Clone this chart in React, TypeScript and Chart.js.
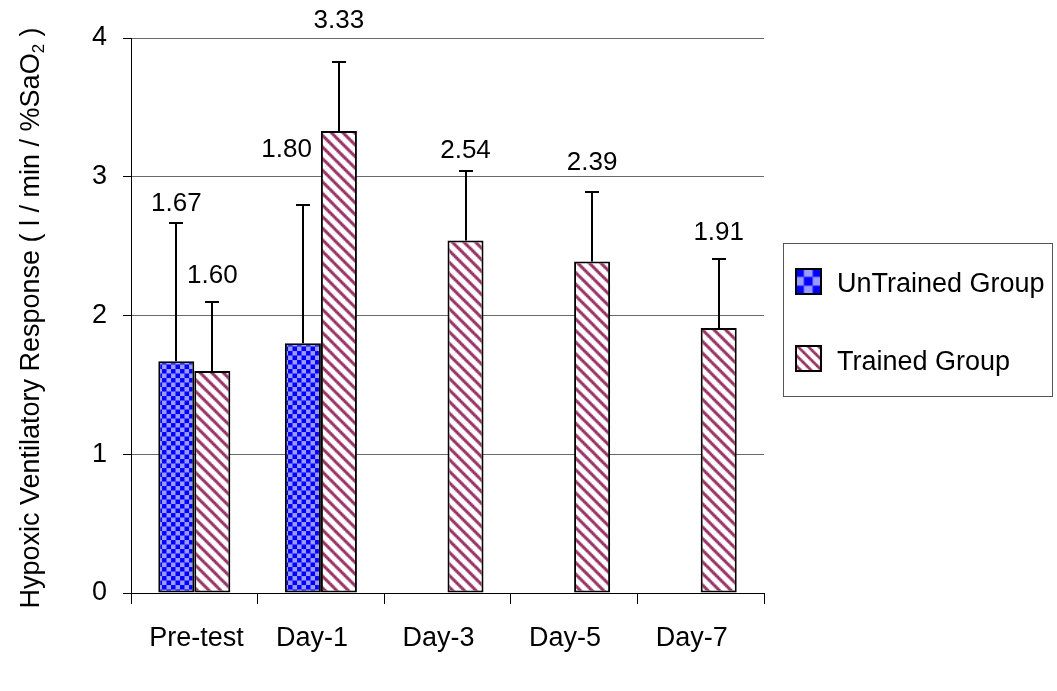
import React, { useEffect, useRef } from "react";
import { Chart, registerables } from "chart.js";

Chart.register(...registerables);

// Hypoxic ventilatory response, mean with upper SD
const categories = ["Pre-test", "Day-1", "Day-3", "Day-5", "Day-7"];
const seriesNames = ["UnTrained Group", "Trained Group"];
const untrainedValues = [1.67, 1.8, null, null, null];
const untrainedErrors = [1.0, 1.0, null, null, null];
const trainedValues = [1.6, 3.33, 2.54, 2.39, 1.91];
const trainedErrors = [0.5, 0.5, 0.5, 0.5, 0.5];
const yTickValues = [0, 1, 2, 3, 4];
const yTitle = "Hypoxic Ventilatory Response ( l / min / %SaO";
const yTitleSub = "2";
const yTitleTail = " )";

const FONT = '"Liberation Sans", Arial, Helvetica, sans-serif';
const W = 1057;
const H = 691;

function makeChecker(ctx: CanvasRenderingContext2D, scale: number, ox = 0, oy = 0) {
  const c = document.createElement("canvas");
  c.width = 8;
  c.height = 8;
  const g = c.getContext("2d")!;
  g.fillStyle = "#9a9aff";
  g.fillRect(0, 0, 8, 8);
  g.fillStyle = "#0000ff";
  g.fillRect(0, 0, 4, 4);
  g.fillRect(4, 4, 4, 4);
  const p = ctx.createPattern(c, "repeat")!;
  p.setTransform(new DOMMatrix().translate(ox, oy).scale(scale));
  return p;
}

function makeStripes(ctx: CanvasRenderingContext2D, scale: number, ox = 0, oy = 0) {
  const S = 8;
  const c = document.createElement("canvas");
  c.width = S;
  c.height = S;
  const g = c.getContext("2d")!;
  g.fillStyle = "#ffffff";
  g.fillRect(0, 0, S, S);
  g.fillStyle = "#993366";
  for (let y = 0; y < S; y++) {
    for (let x = 0; x < S; x++) {
      if ((((x - y) % S) + S) % S < 3) g.fillRect(x, y, 1, 1);
    }
  }
  const p = ctx.createPattern(c, "repeat")!;
  p.setTransform(new DOMMatrix().translate(ox, oy).scale(scale));
  return p;
}

export default function App() {
  const canvasRef = useRef<HTMLCanvasElement | null>(null);

  useEffect(() => {
    const canvas = canvasRef.current;
    if (!canvas) return;
    const ctx = canvas.getContext("2d")!;
    const checker = makeChecker(ctx, 1.125);
    const stripes = makeStripes(ctx, 1.45);
    const errors = [untrainedErrors, trainedErrors];

    // upward-only error bars with caps
    const errorBars = {
      id: "errorBars",
      afterDatasetsDraw(chart: any) {
        const c = chart.ctx;
        const y = chart.scales.y;
        c.save();
        c.strokeStyle = "#000";
        c.lineWidth = 2;
        chart.data.datasets.forEach((ds: any, di: number) => {
          const meta = chart.getDatasetMeta(di);
          meta.data.forEach((bar: any, i: number) => {
            const v = ds.data[i];
            const e = errors[di][i];
            if (v == null || e == null) return;
            const top = Math.round(y.getPixelForValue(v + e));
            const x = Math.round(bar.x);
            c.beginPath();
            c.moveTo(x, bar.y);
            c.lineTo(x, top);
            c.moveTo(x - 7, top);
            c.lineTo(x + 7, top);
            c.stroke();
          });
        });
        c.restore();
      },
    };

    // value labels above each error bar
    const valueLabels = {
      id: "valueLabels",
      afterDatasetsDraw(chart: any, _args: any, opts: any) {
        const c = chart.ctx;
        const y = chart.scales.y;
        c.save();
        c.fillStyle = "#000";
        c.font = `26px ${FONT}`;
        c.textBaseline = "middle";
        chart.data.datasets.forEach((ds: any, di: number) => {
          const meta = chart.getDatasetMeta(di);
          meta.data.forEach((bar: any, i: number) => {
            const v = ds.data[i];
            if (v == null) return;
            const lift = opts.lift[di][i];
            const text = v.toFixed(2);
            if (lift === "beside") {
              // tucked against the left side of the neighbouring bar's top
              const other = chart.getDatasetMeta(1 - di).data[i];
              c.textAlign = "right";
              c.fillText(text, other.x - other.width / 2 - 9, other.y + 19);
              return;
            }
            const cap = y.getPixelForValue(v + errors[di][i]);
            c.textAlign = "center";
            c.fillText(text, bar.x, cap - lift);
          });
        });
        c.restore();
      },
    };

    // rotated y title with subscript
    const yAxisTitle = {
      id: "yAxisTitle",
      afterDraw(chart: any) {
        const c = chart.ctx;
        c.save();
        c.translate(39, 318);
        c.rotate(-Math.PI / 2);
        c.fillStyle = "#000";
        c.textBaseline = "alphabetic";
        c.textAlign = "left";
        c.font = `27px ${FONT}`;
        const w1 = c.measureText(yTitle).width;
        const w3 = c.measureText(yTitleTail).width;
        c.font = `17px ${FONT}`;
        const w2 = c.measureText(yTitleSub).width;
        let x = -(w1 + w2 + w3) / 2;
        c.font = `27px ${FONT}`;
        c.fillText(yTitle, x, 0);
        x += w1;
        c.font = `17px ${FONT}`;
        c.fillText(yTitleSub, x, 5);
        x += w2;
        c.font = `27px ${FONT}`;
        c.fillText(yTitleTail, x, 0);
        c.restore();
      },
    };

    // boxed legend on the right
    const boxLegend = {
      id: "boxLegend",
      afterDraw(chart: any) {
        const c = chart.ctx;
        c.save();
        c.strokeStyle = "#555";
        c.lineWidth = 1;
        c.strokeRect(783.5, 243.5, 269, 153);
        const rows = [
          { y: 268, fill: makeChecker(c, 2.2, 795, 268), text: seriesNames[0], base: 292 },
          { y: 345, fill: makeStripes(c, 1.3, 795, 345), text: seriesNames[1], base: 370 },
        ];
        rows.forEach((r) => {
          c.fillStyle = r.fill;
          c.fillRect(795, r.y, 27, 27);
          c.strokeStyle = "#000";
          c.lineWidth = 2;
          c.strokeRect(796, r.y + 1, 25, 25);
          c.fillStyle = "#000";
          c.font = `27px ${FONT}`;
          c.textAlign = "left";
          c.textBaseline = "alphabetic";
          c.fillText(r.text, 837, r.base);
        });
        c.restore();
      },
    };

    const chart = new Chart(ctx, {
      type: "bar",
      data: {
        labels: categories,
        datasets: [
          {
            label: seriesNames[0],
            data: untrainedValues,
            backgroundColor: checker,
            borderColor: "#000",
            borderWidth: 2,
            borderSkipped: false,
          },
          {
            label: seriesNames[1],
            data: trainedValues,
            backgroundColor: stripes,
            borderColor: "#000",
            borderWidth: 2,
            borderSkipped: false,
          },
        ],
      },
      options: {
        responsive: false,
        animation: false,
        events: [],
        layout: { padding: { left: 0, right: W - 764, top: 38, bottom: 0 } },
        datasets: { bar: { categoryPercentage: 0.569, barPercentage: 1 } },
        plugins: {
          legend: { display: false },
          tooltip: { enabled: false },
          valueLabels: {
            lift: [
              [19, "beside", null, null, null],
              [26, 41, 20, 29, 26],
            ],
          },
        } as any,
        scales: {
          x: {
            grid: {
              offset: true,
              drawOnChartArea: false,
              tickLength: 11,
              tickColor: "#000",
              tickWidth: 1,
            },
            border: { color: "#000", width: 1 },
            ticks: {
              font: { family: FONT, size: 27 },
              color: "#000",
              padding: 18,
              align: "start",
              labelOffset: -45,
              maxRotation: 0,
              autoSkip: false,
            },
            afterFit: (s: any) => {
              s.height = 98;
            },
          },
          y: {
            min: 0,
            max: 4,
            afterBuildTicks: (s: any) => {
              s.ticks = yTickValues.map((v) => ({ value: v }));
            },
            ticks: {
              font: { family: FONT, size: 27 },
              color: "#000",
              padding: 16,
            },
            grid: {
              color: (c: any) => (c.tick && c.tick.value === 0 ? "#000" : "#6a6a6a"),
              lineWidth: 1,
              tickLength: 8,
              tickColor: "#000",
            },
            border: { color: "#000", width: 1 },
            afterFit: (s: any) => {
              s.width = 131;
            },
          },
        },
      },
      plugins: [errorBars, valueLabels, yAxisTitle, boxLegend],
    });

    return () => chart.destroy();
  }, []);

  return (
    <div style={{ position: "fixed", left: 0, top: 0, width: W, height: H, background: "#fff" }}>
      <canvas ref={canvasRef} width={W} height={H} style={{ display: "block" }} />
    </div>
  );
}
